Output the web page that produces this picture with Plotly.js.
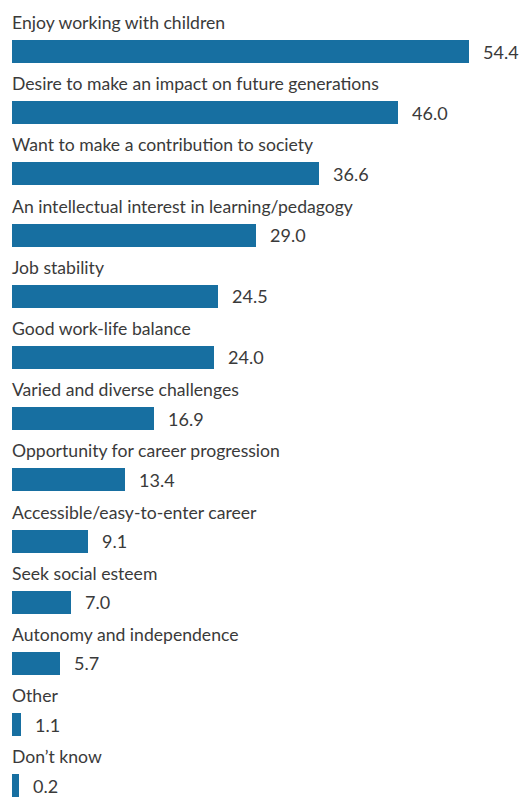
<!DOCTYPE html>
<html>
<head>
<meta charset="utf-8">
<script src="https://cdn.plot.ly/plotly-3.0.1.min.js"></script>
<style>
html,body{margin:0;padding:0;background:#fff;}
#chart{width:519px;height:798px;}
</style>
</head>
<body>
<div id="chart"></div>
<script>
const categories = [
  "Enjoy working with children",
  "Desire to make an impact on future generations",
  "Want to make a contribution to society",
  "An intellectual interest in learning/pedagogy",
  "Job stability",
  "Good work-life balance",
  "Varied and diverse challenges",
  "Opportunity for career progression",
  "Accessible/easy-to-enter career",
  "Seek social esteem",
  "Autonomy and independence",
  "Other",
  "Don\u2019t know"
];
const values = [54.4, 46.0, 36.6, 29.0, 24.5, 24.0, 16.9, 13.4, 9.1, 7.0, 5.7, 1.1, 0.2];
const valueLabels = values.map(v => v.toFixed(1));

const FONT = "Lato, 'DejaVu Sans Condensed', sans-serif";
const TEXT_COLOR = "#3a3a3a";
const BAR_COLOR = "#176fa1";
const MIN_BAR = 0.87; // minimum visible bar length

const shown = values.map(v => Math.max(v, MIN_BAR));

const trace = {
  type: "bar",
  orientation: "h",
  x: shown,
  y: categories,
  marker: {color: BAR_COLOR},
  width: 0.376,
  hoverinfo: "skip"
};

const annotations = [];
categories.forEach((c, i) => {
  annotations.push({
    x: 0, y: c, xref: "x", yref: "y",
    text: c, showarrow: false,
    xanchor: "left", yanchor: "middle",
    xshift: -2, yshift: 29,
    font: {family: FONT, size: 17.6, color: TEXT_COLOR}
  });
  annotations.push({
    x: shown[i], y: c, xref: "x", yref: "y",
    text: valueLabels[i], showarrow: false,
    xanchor: "left", yanchor: "middle",
    xshift: 12, yshift: 0,
    font: {family: FONT, size: 18, color: TEXT_COLOR}
  });
});

const layout = {
  width: 519, height: 798,
  margin: {l: 12, r: 0, t: 0, b: 0},
  paper_bgcolor: "#ffffff",
  plot_bgcolor: "#ffffff",
  showlegend: false,
  xaxis: {range: [0, 60.36], showgrid: false, zeroline: false, showticklabels: false, showline: false, fixedrange: true},
  yaxis: {type: "category", categoryorder: "array", categoryarray: categories,
          range: [12.198, -0.8415], autorange: false,
          showgrid: false, zeroline: false, showticklabels: false, showline: false, fixedrange: true},
  annotations: annotations,
  bargap: 0
};

Plotly.newPlot("chart", [trace], layout, {displayModeBar: false, staticPlot: true});
</script>
</body>
</html>
